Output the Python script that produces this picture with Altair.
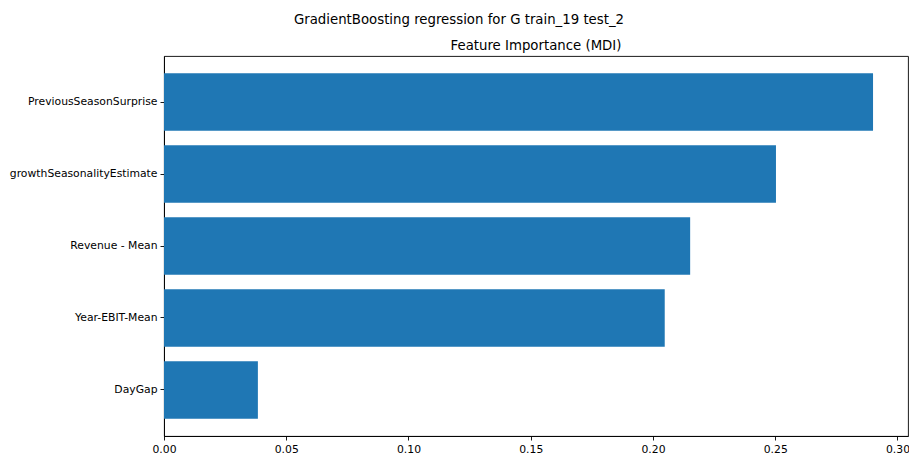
import altair as alt
import pandas as pd

# Feature importances (mean decrease in impurity), top to bottom
features = [
    "PreviousSeasonSurprise",
    "growthSeasonalityEstimate",
    "Revenue - Mean",
    "Year-EBIT-Mean",
    "DayGap",
]
importances = [0.2900, 0.2503, 0.2152, 0.2048, 0.0384]
x_ticks = [0.00, 0.05, 0.10, 0.15, 0.20, 0.25, 0.30]

suptitle = "GradientBoosting regression for G train_19 test_2"
axes_title = "Feature Importance (MDI)"

FONT = "DejaVu Sans"
BAR = "#1f77b4"
PAD_LEFT, PAD_TOP = 164, 56
WIDTH, HEIGHT = 744, 380

df = pd.DataFrame({"feature": features, "importance": importances})

axis_style = dict(
    title=None, grid=False,
    labelFont=FONT, labelFontSize=10.8, labelColor="black",
    tickColor="black", tickSize=4, tickWidth=0.9,
    domainColor="black", domainWidth=0.9, labelPadding=3,
)

bars = alt.Chart(df).mark_bar(color=BAR).encode(
    x=alt.X(
        "importance:Q",
        scale=alt.Scale(domain=[0, 0.3043], nice=False, zero=True),
        axis=alt.Axis(values=x_ticks, format=".2f", labelFlush=False, **axis_style),
    ),
    y=alt.Y(
        "feature:N",
        sort=features,
        scale=alt.Scale(paddingInner=0.2, paddingOuter=0.24),
        axis=alt.Axis(**axis_style),
    ),
)


def title_text(text, x, y):
    return alt.Chart(pd.DataFrame({"t": [text]})).mark_text(
        font=FONT, fontSize=13.3, color="black", align="center", baseline="alphabetic"
    ).encode(text="t:N", x=alt.value(x), y=alt.value(y))


# figure-level title and the axes title, placed relative to the plot area
sup = title_text(suptitle, 459 - PAD_LEFT, 24 - PAD_TOP)
sub = title_text(axes_title, WIDTH / 2, 49.5 - PAD_TOP)

chart = alt.layer(bars, sup, sub).properties(
    width=WIDTH,
    height=HEIGHT,
    padding={"left": PAD_LEFT, "top": PAD_TOP, "right": 1, "bottom": 18},
    autosize=alt.AutoSizeParams(type="none"),
    background="white",
).configure_view(stroke="black", strokeWidth=0.9)

chart.save("out.html", embed_options={"renderer": "svg", "actions": False})
